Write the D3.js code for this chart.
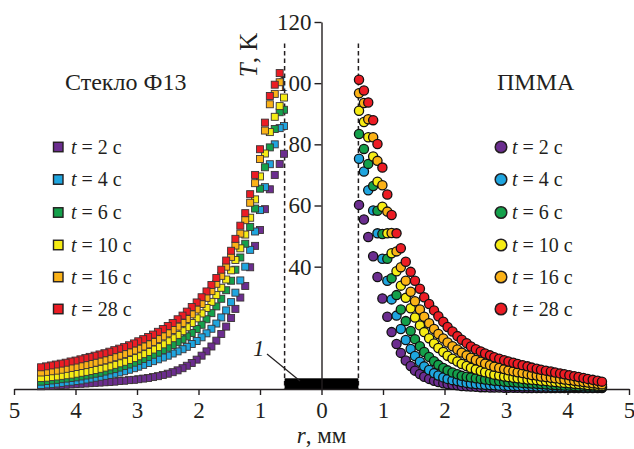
<!DOCTYPE html>
<html>
<head>
<meta charset="utf-8">
<script src="https://cdn.jsdelivr.net/npm/d3@7"></script>
<style>
  body { margin: 0; background: #fff; }
  svg { display: block; }
  text { font-family: "Liberation Serif", "Times New Roman", serif; fill: #231f20; }
</style>
</head>
<body>
<svg id="chart" width="634" height="449"></svg>
<script>
// Heating times (s) and their colours
const times = [2, 4, 6, 10, 16, 28];
const colors = ["#6b2d8f", "#1fa5df", "#14a04b", "#f6ec14", "#fbb217", "#ec1c24"];

// Radial positions, mm (glass drawn to the left of the heater, PMMA to the right)
const rGlass = [0.61, 0.68, 0.76, 0.84, 0.92, 1.00, 1.08, 1.16, 1.24, 1.32, 1.40, 1.47, 1.55, 1.63, 1.71, 1.79, 1.87, 1.95, 2.03, 2.11,
  2.19, 2.26, 2.34, 2.42, 2.50, 2.58, 2.66, 2.74, 2.82, 2.90, 2.98, 3.05, 3.13, 3.21, 3.29, 3.37, 3.45, 3.53, 3.61, 3.69,
  3.77, 3.84, 3.92, 4.00, 4.08, 4.16, 4.24, 4.32, 4.40, 4.48, 4.56];
const rPmma = [0.61, 0.69, 0.76, 0.84, 0.91, 0.99, 1.07, 1.14, 1.22, 1.29, 1.37, 1.45, 1.52, 1.60, 1.67, 1.75, 1.83, 1.90, 1.98, 2.05,
  2.13, 2.21, 2.28, 2.36, 2.43, 2.51, 2.59, 2.66, 2.74, 2.81, 2.89, 2.97, 3.04, 3.12, 3.19, 3.27, 3.35, 3.42, 3.50, 3.57,
  3.65, 3.73, 3.80, 3.88, 3.95, 4.03, 4.11, 4.18, 4.26, 4.33, 4.41, 4.49, 4.56];

// Temperature rise T, K — glass F13 (null: no point at that radius)
const glass2 = [76.9, 73.6, 70.0, 65.3, 58.8, 52.0, 46.8, 39.8, 33.7, 29.9, 26.2, 23.2, 20.4, 18.0, 15.8, 13.9, 12.3, 10.9, 9.6, 8.5,
  7.6, 6.8, 6.1, 5.5, 5.0, 4.6, 4.2, 3.9, 3.6, 3.4, 3.2, 3.0, 2.9, 2.7, 2.6, 2.4, 2.3, 2.2, 2.1, 2.0,
  1.9, 1.8, 1.7, 1.6, 1.5, 1.4, 1.3, 1.2, 1.1, 1.0, 0.9];
const glass4 = [86.0, 85.3, 80.0, 73.5, 66.0, 58.5, 51.5, 45.5, 40.0, 35.5, 31.5, 28.4, 25.7, 23.4, 21.4, 19.7, 18.2, 16.9, 15.7, 14.7,
  13.8, 13.0, 12.3, 11.6, 10.9, 10.3, 9.7, 9.1, 8.5, 7.9, 7.3, 6.8, 6.3, 5.8, 5.4, 5.0, 4.6, 4.3, 4.0, 3.7,
  3.4, 3.1, 2.8, 2.6, 2.4, 2.2, 2.0, 1.8, 1.6, 1.5, 1.3];
const glass6 = [91.3, 90.5, 85.0, 79.0, 72.5, 65.5, 59.0, 53.0, 47.5, 43.0, 39.0, 35.4, 32.3, 29.5, 27.0, 24.8, 22.8, 21.0, 19.6, 18.3,
  17.2, 16.2, 15.3, 14.4, 13.5, 12.7, 11.9, 11.2, 10.5, 9.8, 9.2, 8.6, 8.0, 7.5, 7.0, 6.5, 6.1, 5.7, 5.3, 5.0,
  4.7, 4.4, 4.1, 3.8, 3.6, 3.4, 3.2, 3.0, 2.8, 2.6, 2.4];
const glass10 = [95.3, 92.5, 89.0, 84.0, 77.0, 69.5, 62.0, 56.0, 50.5, 46.0, 42.2, 38.8, 35.8, 33.1, 30.7, 28.5, 26.5, 24.7, 23.1, 21.6,
  20.2, 18.9, 17.7, 16.6, 15.6, 14.6, 13.7, 12.9, 12.1, 11.4, 10.7, 10.1, 9.5, 8.9, 8.4, 7.9, 7.4, 7.0, 6.6, 6.2,
  5.9, 5.6, 5.3, 5.0, 4.7, 4.5, 4.3, 4.1, 3.9, 3.7, 3.6];
const glass16 = [null, 100.3, 96.5, 93.1, 84.5, 75.2, 67.3, 60.9, 55.2, 50.8, 46.9, 43.2, 40.0, 37.0, 34.4, 32.0, 29.8, 27.8, 26.0, 24.4,
  22.9, 21.6, 20.4, 19.3, 18.2, 17.2, 16.3, 15.4, 14.6, 13.9, 13.2, 12.6, 12.0, 11.4, 10.9, 10.4, 9.9, 9.4, 9.0, 8.6,
  8.2, 7.8, 7.5, 7.2, 6.9, 6.6, 6.3, 6.0, 5.8, 5.6, 5.4];
const glass28 = [null, 103.3, 99.5, 95.8, 87.1, 78.4, 70.0, 63.7, 57.5, 53.4, 49.1, 45.2, 42.0, 39.0, 36.3, 34.0, 31.9, 30.0, 28.3, 26.8,
  25.3, 24.0, 22.8, 21.6, 20.6, 19.6, 18.7, 17.8, 17.0, 16.3, 15.6, 14.9, 14.3, 13.7, 13.2, 12.7, 12.2, 11.7, 11.3, 10.9,
  10.5, 10.1, 9.7, 9.3, 9.0, 8.6, 8.3, 8.0, 7.7, 7.4, 7.1];

// Temperature rise T, K — PMMA
const pmma2 = [60.2, 55.4, 49.7, 43.4, 36.6, 29.6, 23.6, 18.6, 14.7, 11.8, 9.3, 7.5, 6.0, 4.9, 4.0, 3.3, 2.7, 2.3, 1.9, 1.6,
  1.4, 1.2, 1.0, 0.9, 0.8, 0.7, 0.6, 0.6, 0.5, 0.5, 0.5, 0.4, 0.4, 0.4, 0.4, 0.3, 0.3, 0.3, 0.3, 0.3,
  0.3, 0.3, 0.3, 0.3, 0.3, 0.3, 0.3, 0.3, 0.3, 0.3, 0.3, 0.3, 0.3];
const pmma4 = [75.3, 71.1, 65.0, 58.4, 50.9, 42.6, 35.4, 29.3, 24.0, 19.6, 16.0, 13.1, 10.8, 8.9, 7.4, 6.2, 5.2, 4.4, 3.8, 3.3,
  2.9, 2.6, 2.3, 2.0, 1.8, 1.6, 1.5, 1.4, 1.3, 1.2, 1.1, 1.1, 1.0, 1.0, 1.0, 0.9, 0.9, 0.9, 0.8, 0.8,
  0.8, 0.7, 0.7, 0.7, 0.6, 0.6, 0.6, 0.6, 0.5, 0.5, 0.5, 0.5, 0.5];
const pmma6 = [83.4, 78.5, 73.6, 66.4, 58.3, 50.7, 42.6, 36.2, 30.7, 26.0, 22.2, 19.0, 16.3, 14.0, 12.1, 10.5, 9.1, 7.9, 6.9, 6.1,
  5.4, 4.8, 4.3, 4.0, 3.8, 3.5, 3.3, 3.1, 2.9, 2.7, 2.6, 2.4, 2.3, 2.2, 2.1, 2.0, 1.9, 1.8, 1.7, 1.6,
  1.5, 1.4, 1.3, 1.2, 1.1, 1.1, 1.0, 0.9, 0.9, 0.8, 0.8, 0.7, 0.7];
const pmma10 = [91.0, 87.3, 82.3, 76.0, 67.8, 59.6, 50.9, 44.4, 38.5, 33.8, 29.8, 26.4, 23.4, 20.8, 18.6, 16.6, 14.9, 13.4, 12.1, 10.9,
  9.9, 9.0, 8.2, 7.5, 6.9, 6.4, 5.9, 5.5, 5.1, 4.7, 4.4, 4.1, 3.9, 3.7, 3.5, 3.3, 3.1, 3.0, 2.9, 2.7,
  2.6, 2.4, 2.3, 2.1, 2.0, 1.9, 1.7, 1.6, 1.5, 1.3, 1.2, 1.1, 1.0];
const pmma16 = [96.7, 93.5, 88.2, 82.3, 74.6, 66.6, 58.0, 51.0, 45.0, 39.8, 35.4, 31.8, 28.7, 26.0, 23.6, 21.5, 19.6, 18.0, 16.5, 15.2,
  14.0, 12.9, 11.9, 11.0, 10.2, 9.5, 8.9, 8.3, 7.8, 7.3, 6.9, 6.5, 6.1, 5.8, 5.5, 5.2, 4.9, 4.6, 4.4, 4.1,
  3.9, 3.7, 3.5, 3.3, 3.1, 2.9, 2.7, 2.5, 2.3, 2.1, 1.9, 1.7, 1.5];
const pmma28 = [101.1, 97.6, 93.7, 87.9, 80.1, 72.4, 63.6, 56.9, 50.9, 46.0, 41.6, 38.3, 35.4, 32.8, 30.0, 27.8, 25.7, 23.8, 22.0, 20.3,
  18.8, 17.3, 16.1, 15.0, 13.9, 13.0, 12.3, 11.6, 11.0, 10.4, 9.9, 9.4, 9.0, 8.6, 8.2, 7.8, 7.4, 7.0, 6.6, 6.3,
  6.0, 5.7, 5.4, 5.1, 4.8, 4.5, 4.2, 3.9, 3.6, 3.3, 3.0, 2.7, 2.4];

// Axis ticks and heater half-width (mm)
const xTicks = [-5, -4, -3, -2, -1, 0, 1, 2, 3, 4, 5];
const yTicks = [40, 60, 80, 100, 120];
const heaterR = 0.6;

const glassSeries = [glass2, glass4, glass6, glass10, glass16, glass28];
const pmmaSeries = [pmma2, pmma4, pmma6, pmma10, pmma16, pmma28];

const svg = d3.select("#chart");
const ink = "#231f20";

const x = d3.scaleLinear().domain([-5, 5]).range([14, 629]);
const y = d3.scaleLinear().domain([0, 120]).range([389, 22]);

// Heater boundaries (dashed)
[-heaterR, heaterR].forEach(r => {
  svg.append("line")
    .attr("x1", x(r)).attr("x2", x(r))
    .attr("y1", y(113)).attr("y2", y(0))
    .attr("stroke", ink).attr("stroke-width", 1.5)
    .attr("stroke-dasharray", "4.5,3");
});

// Heater body (1)
svg.append("rect")
  .attr("x", x(-heaterR)).attr("y", y(3.5))
  .attr("width", x(heaterR) - x(-heaterR)).attr("height", y(0) - y(3.5))
  .attr("fill", "#000");

// x axis: |r|, mm
const xAxis = svg.append("g")
  .attr("transform", `translate(0,${y(0)})`)
  .call(d3.axisBottom(x).tickValues(xTicks).tickFormat(d => Math.abs(d))
    .tickSize(6).tickSizeOuter(0).tickPadding(7));
xAxis.selectAll("text").attr("font-size", 23).style("font-family", '"Liberation Serif", serif').attr("fill", ink);

// y axis in the centre
const yAxis = svg.append("g")
  .attr("transform", `translate(${x(0)},0)`)
  .call(d3.axisLeft(y).tickValues(yTicks).tickSize(7).tickSizeOuter(0).tickPadding(3));
yAxis.selectAll("text").attr("font-size", 23).style("font-family", '"Liberation Serif", serif').attr("fill", ink);

[xAxis, yAxis].forEach(g => {
  g.select(".domain").attr("stroke", ink).attr("stroke-width", 1.4);
  g.selectAll(".tick line").attr("stroke", ink).attr("stroke-width", 1.4);
});

// Glass F13: squares on the left
const sq = 7;
glassSeries.forEach((vals, k) => {
  svg.append("g").selectAll("rect")
    .data(vals.map((v, i) => ({ r: rGlass[i], t: v })).filter(d => d.t !== null))
    .join("rect")
    .attr("x", d => x(-d.r) - sq / 2)
    .attr("y", d => y(d.t) - sq / 2)
    .attr("width", sq).attr("height", sq)
    .attr("fill", colors[k])
    .attr("stroke", "#3b3335").attr("stroke-width", 0.9);
});

// PMMA: circles on the right
pmmaSeries.forEach((vals, k) => {
  svg.append("g").selectAll("circle")
    .data(vals.map((v, i) => ({ r: rPmma[i], t: v })))
    .join("circle")
    .attr("cx", d => x(d.r))
    .attr("cy", d => y(d.t))
    .attr("r", 4.6)
    .attr("fill", colors[k])
    .attr("stroke", "#111").attr("stroke-width", 1.3);
});

// Material titles
svg.append("text").attr("x", 65).attr("y", 90).attr("font-size", 24).text("Стекло Ф13");
svg.append("text").attr("x", 497).attr("y", 90).attr("font-size", 24).text("ПММА");

// Legends
const rowY = [147, 179.5, 212.5, 245, 277, 309];
function legendLabel(g, tx, ty, t) {
  const txt = g.append("text").attr("x", tx).attr("y", ty).attr("font-size", 20);
  txt.append("tspan").attr("font-style", "italic").text("t");
  txt.append("tspan").text(` = ${t} с`);
}
times.forEach((t, k) => {
  const g = svg.append("g");
  g.append("rect")
    .attr("x", 53.5).attr("y", rowY[k] - 4.75)
    .attr("width", 9.5).attr("height", 9.5)
    .attr("fill", colors[k]).attr("stroke", ink).attr("stroke-width", 1.4);
  legendLabel(g, 71, rowY[k] + 6.5, t);

  g.append("circle")
    .attr("cx", 501).attr("cy", rowY[k])
    .attr("r", 5.8)
    .attr("fill", colors[k]).attr("stroke", ink).attr("stroke-width", 1.5);
  legendLabel(g, 512, rowY[k] + 6.5, t);
});

// Axis titles
const yTitle = svg.append("text")
  .attr("transform", `translate(257,55) rotate(-90)`)
  .attr("text-anchor", "middle").attr("font-size", 25);
yTitle.append("tspan").attr("font-style", "italic").text("T");
yTitle.append("tspan").text(", K");

const xTitle = svg.append("text")
  .attr("x", x(0)).attr("y", 443)
  .attr("text-anchor", "middle").attr("font-size", 23);
xTitle.append("tspan").attr("font-style", "italic").text("r");
xTitle.append("tspan").text(", мм");

// Heater label "1" with leader
svg.append("line")
  .attr("x1", 267).attr("y1", 354).attr("x2", 300).attr("y2", 381)
  .attr("stroke", ink).attr("stroke-width", 1.2);
svg.append("text").attr("x", 253).attr("y", 356)
  .attr("font-size", 23).attr("font-style", "italic").text("1");
</script>
</body>
</html>
